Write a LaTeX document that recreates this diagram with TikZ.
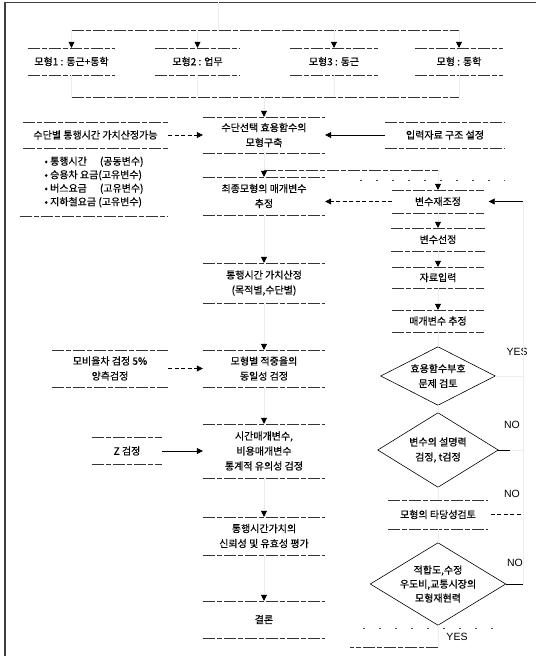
\documentclass[tikz,border=0pt]{standalone}
\usepackage{fontspec}
\setmainfont{Noto Sans CJK KR}[BoldFont={Noto Sans CJK KR}, BoldFeatures={FakeBold=0.5}]
\newfontfamily\latf{Liberation Sans}
\usetikzlibrary{arrows.meta,calc}
\newcommand\boxlines[1]{\draw[bl] (#1.north west) -- (#1.north east) (#1.south west) -- (#1.south east);}
\newcommand\diamlines[1]{\draw[dline] (#1.north) -- (#1.east) -- (#1.south) -- (#1.west) -- cycle;}
\begin{document}
\begin{tikzpicture}[x=1pt,y=-1pt,
  every node/.style={font=\bfseries\fontsize{10}{15}\selectfont, inner sep=0pt, align=center},
  bl/.style={line width=0.6pt, black!80, dash pattern=on 12pt off 2pt on 5pt off 2pt},
  conn/.style={line width=0.5pt, black!7},
  tip/.style={-{Triangle[width=6pt,length=6pt,color=black,fill=black]}},
  hdash/.style={line width=0.6pt, black, dash pattern=on 4pt off 2.5pt},
  hsolid/.style={line width=0.6pt, black},
  dline/.style={line width=0.6pt, black},
  lab/.style={font=\latf\fontsize{10.5}{12}\selectfont},
  deco/.style={line width=0.6pt, black!70, dash pattern=on 2pt off 14pt}
]
\fill[white] (0,0) rectangle (536,656);
\useasboundingbox (0,0) rectangle (536,656);
% frame
\draw[line width=1.2pt, black!75] (5,656) -- (5,2);
\draw[line width=0.8pt, black!75] (5,2) -- (536,2);

% top models
\node[minimum width=87pt, minimum height=27pt] (b1) at (71.5,61.5) {모형1 : 통근+통학};
\node[minimum width=85pt, minimum height=27pt] (b2) at (197.5,61.5) {모형2 : 업무};
\node[minimum width=88pt, minimum height=27pt] (b3) at (334,61.5) {모형3 : 통근};
\node[minimum width=88pt, minimum height=27pt] (b4) at (459,61.5) {모형 : 통학};

% main column
\node[minimum width=122pt, minimum height=36pt] (m1) at (264,135) {수단선택 효용함수의\\모형구축};
\node[minimum width=122pt, minimum height=38pt] (m2) at (264,196) {최종모형의 매개변수\\추정};
\node[minimum width=122pt, minimum height=40pt] (m3) at (264,283) {통행시간 가치산정\\(목적별,수단별)};
\node[minimum width=122pt, minimum height=37pt] (m4) at (264,368.5) {모형별 적중율의\\동일성 검정};
\node[minimum width=122pt, minimum height=54pt] (m5) at (264,451) {시간매개변수,\\비용매개변수\\통계적 유의성 검정};
\node[minimum width=122pt, minimum height=38pt] (m6) at (264,536) {통행시간가치의\\신뢰성 및 유효성 평가};
\node[minimum width=122pt, minimum height=37pt] (m7) at (264,619.5) {결론};

% left column
\node[minimum width=145pt, minimum height=26pt] (L1) at (95.5,135) {수단별 통행시간 가치산정가능};
\node[minimum width=148pt, minimum height=68pt, align=left, font=\bfseries\fontsize{10}{13.5}\selectfont] (lst) at (94,182)
  {• 통행시간\hspace{1.3em}(공동변수)\\• 승용차 요금(고유변수)\\• 버스요금\hspace{1.3em}(고유변수)\\• 지하철요금 (고유변수)};
\node[minimum width=116pt, minimum height=37pt] (L2) at (110,368.5) {모비율차 검정 5\%\\양측검정};
\node[minimum width=70pt, minimum height=27pt] (L3) at (127,451) {Z 검정};

% right column
\node[minimum width=120pt, minimum height=26pt] (R1) at (445,135) {입력자료 구조 설정};
\node[minimum width=91pt, minimum height=23pt] (vr) at (438,201.5) {변수재조정};
\node[minimum width=93pt, minimum height=23pt] (vs) at (438,239.5) {변수선정};
\node[minimum width=91pt, minimum height=21pt] (di) at (438,277.5) {자료입력};
\node[minimum width=91pt, minimum height=22pt] (pe) at (438,321) {매개변수 추정};
\node[minimum width=114pt, minimum height=58pt] (d1) at (438,376) {효용함수부호\\문제 검토};
\node[minimum width=120pt, minimum height=74pt] (d2) at (438,450) {변수의 설명력\\검정, t검정};
\node[minimum width=99pt, minimum height=29pt] (vt) at (438,514.5) {모형의 타당성검토};
\node[minimum width=135pt, minimum height=82pt, font=\bfseries\fontsize{10}{14}\selectfont] (d3) at (438,584) {적합도,수정\\우도비,교통시장의\\모형재현력};

% labels
\node[lab] (y1) at (517,352) {YES};
\node[lab] (n1) at (512,425) {NO};
\node[lab] (n2) at (512,494) {NO};
\node[lab] (n3) at (515,563) {NO};
\node[lab] (y2) at (457,637) {YES};

% box borders
\foreach \n in {b1,b2,b3,b4,m1,m2,m3,m4,m5,m6,m7,L1,L2,L3,R1,vr,vs,di,pe,vt} {\boxlines{\n}}
\draw[bl] (lst.south west) -- (lst.south east);
\diamlines{d1}
\diamlines{d2}
\diamlines{d3}

% top distribution
\coordinate (topT) at (218,2);
\coordinate (barT) at (218,30);
\coordinate (barB) at (218,97);
\draw[conn] (topT) -- (barT);
\draw[bl] (b1.north |- barT) -- (b4.north |- barT);
\foreach \n in {b1,b2,b3,b4} {
  \draw[conn,tip] (\n.north |- barT) -- (\n.north);
  \draw[conn] (\n.south) -- (\n.south |- barB);
}
\draw[bl] (b1.south |- barB) -- (b4.south |- barB);
\draw[conn,tip] (m1.north |- barB) -- (m1.north);

% main chain
\draw[conn,tip] (m1) -- (m2);
\draw[conn,tip] (m2) -- (m3);
\draw[conn,tip] (m3) -- (m4);
\draw[conn,tip] (m4) -- (m5);
\draw[conn,tip] (m5) -- (m6);
\draw[conn,tip] (m6) -- (m7);

% side inputs
\draw[hdash,tip] (L1) -- (m1);
\draw[hsolid,tip] (R1) -- (m1);
\draw[hdash,tip] (L2) -- (m4);
\draw[hsolid,tip] (L3) -- (m5);

% right column
\coordinate (j1) at (264,170);
\draw[bl] (j1) -- (j1 -| vr.north);
\draw[conn,tip] (j1 -| vr.north) -- (vr.north);
\coordinate (dc1) at (360,180);
\coordinate (dc2) at (505,180);
\draw[deco] (dc1) -- (dc2);
\draw[hdash,tip] (vr.west) -- (vr.west -| m2.east);
\draw[conn,tip] (vr) -- (vs);
\draw[conn,tip] (vs) -- (di);
\draw[conn,tip] (di) -- (pe);
\draw[conn] (pe) -- (d1.north);
\draw[conn] (d1.south) -- (d2.north);
\draw[conn] (d2.south) -- (vt.north);
\draw[conn] (vt) -- (d3.north);

% feedback loop
\coordinate (rl) at (523,201.5);
\draw[conn] (d1.east) -- (d1.east -| rl);
\draw[conn] (d2.east) -- (d2.east -| rl);
\draw[hsolid] (d2.east) -- ++(12,0);
\draw[hdash] (vt.east) ++(3,0) -- (vt.east -| rl);
\draw[hsolid] (d3.east) -- (d3.east -| rl);
\draw[conn] (d3.east -| rl) -- (rl);
\draw[hsolid,tip,shorten >=5pt] (rl) -- (vr.east);

% YES exit
\coordinate (yb) at (350,647);
\draw[conn] (d3.south) -- (d3.south |- yb);
\draw[bl] (d3.south |- yb) -- (yb);
\coordinate (dc3) at (363,628);
\coordinate (dc4) at (507,628);
\draw[deco] (dc3) -- (dc4);
\end{tikzpicture}
\end{document}
